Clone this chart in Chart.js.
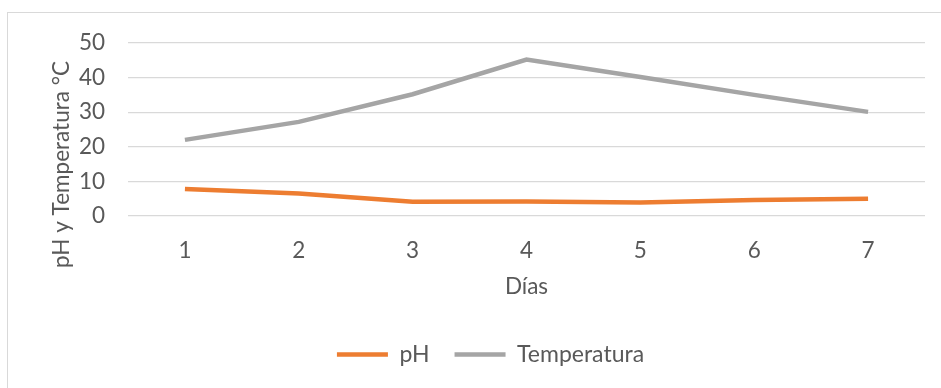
<!DOCTYPE html>
<html>
<head>
<meta charset="utf-8">
<script src="https://cdn.jsdelivr.net/npm/chart.js@4.4.1/dist/chart.umd.min.js"></script>
<style>
  html, body { margin:0; padding:0; background:#fff; }
  #wrap { position:relative; width:941px; height:388px; }
  #frame { position:absolute; left:7px; top:12px; right:0; bottom:0; border-left:1px solid #d9d9d9; border-top:1px solid #d9d9d9; }
  canvas { position:absolute; left:0; top:0; }
</style>
</head>
<body>
<div id="wrap">
  <div id="frame"></div>
  <canvas id="chart" width="941" height="388"></canvas>
</div>
<script>
// data
const dias = ['1', '2', '3', '4', '5', '6', '7']
const ph = [7.8, 6.5, 4.1, 4.2, 3.9, 4.6, 5.0]
const temperatura = [22, 27.2, 35.2, 45.2, 40.2, 35, 30.1]
const yTitle = 'pH y Temperatura °C'
const xTitle = 'Días'

const textColor = '#595959'
const gridColor = '#d9d9d9'
const font = { family: 'Lato, "Open Sans", sans-serif', size: 22.5 }

Chart.defaults.font = font
Chart.defaults.color = textColor

// y axis title sits a bit lower than the plot centre, like in Excel
const yTitlePlugin = {
  id: 'yTitle',
  afterDraw(chart){
    const ctx = chart.ctx
    const area = chart.chartArea
    ctx.save()
    ctx.font = `${font.size}px ${font.family}`
    ctx.fillStyle = textColor
    ctx.textAlign = 'center'
    ctx.textBaseline = 'middle'
    ctx.translate(62, area.top + (area.bottom - area.top) / 2 + 35)
    ctx.rotate(-Math.PI / 2)
    ctx.fillText(yTitle, 0, 0)
    ctx.restore()
  }
}

new Chart(document.getElementById('chart').getContext('2d'), {
  type: 'line',
  data: {
    labels: dias,
    datasets: [
      { label: 'pH', data: ph, borderColor: '#ED7D31', backgroundColor: '#ED7D31', borderWidth: 4.5, pointRadius: 0, tension: 0 },
      { label: 'Temperatura', data: temperatura, borderColor: '#A5A5A5', backgroundColor: '#A5A5A5', borderWidth: 4.5, pointRadius: 0, tension: 0 }
    ]
  },
  options: {
    responsive: false,
    animation: false,
    layout: { padding: { left: 56, top: 43, right: 16, bottom: 12 } },
    plugins: {
      tooltip: { enabled: false },
      legend: {
        position: 'bottom',
        labels: { usePointStyle: true, pointStyle: 'line', pointStyleWidth: 51, padding: 25, color: textColor, font: { size: 23 } }
      }
    },
    scales: {
      x: {
        offset: true,
        grid: { display: false, drawTicks: false },
        border: { display: false },
        ticks: { padding: 21, color: textColor },
        title: { display: true, text: xTitle, color: textColor, padding: { top: 6, bottom: 18 } },
        afterFit(scale){ scale.height = 102 }
      },
      y: {
        min: 0, max: 50,
        ticks: { stepSize: 10, padding: 23, color: textColor },
        grid: { color: gridColor, lineWidth: 1.3, drawTicks: false },
        border: { display: false },
        afterFit(scale){ scale.width = 72 }
      }
    }
  },
  plugins: [yTitlePlugin]
})
</script>
</body>
</html>
